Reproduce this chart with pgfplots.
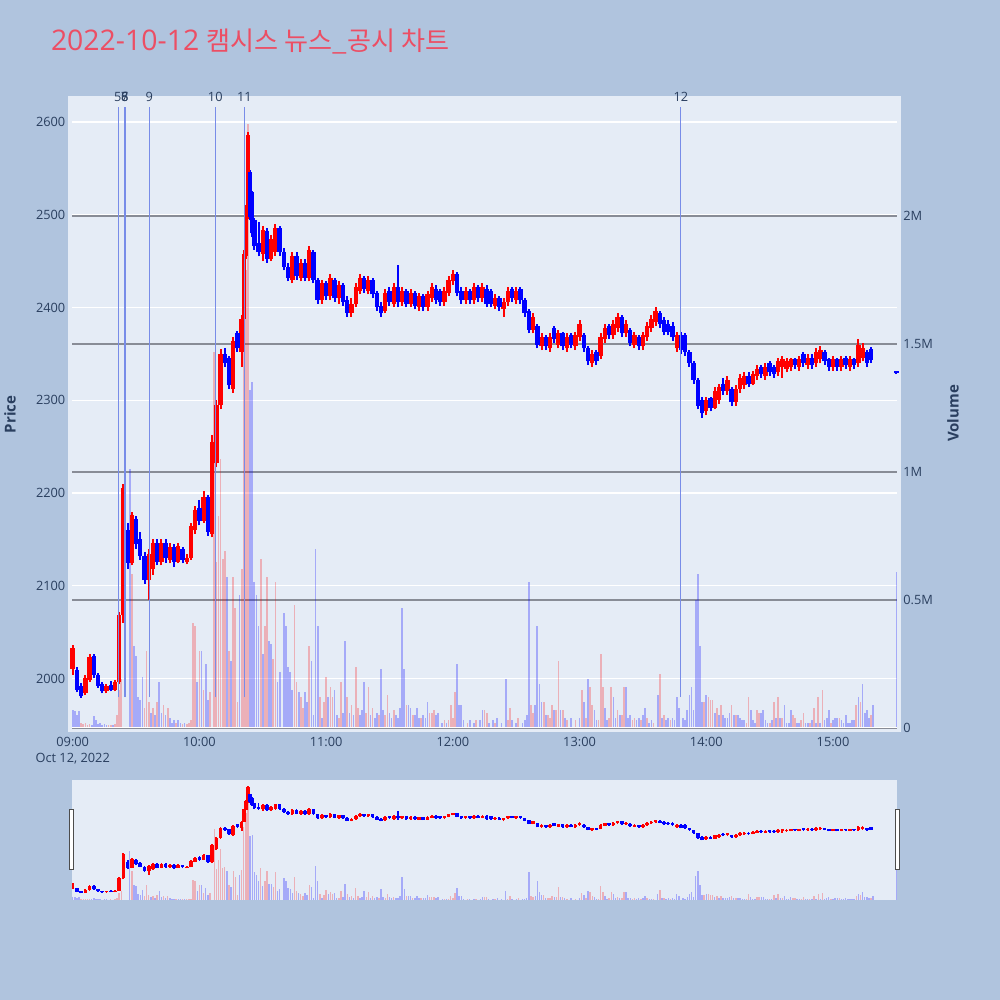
\documentclass[border=0pt]{standalone}
\usepackage{fontspec}
\usepackage{pgfplots}
\usepackage{pgfplotstable}
\pgfplotsset{compat=1.18}
\setmainfont{Open Sans}
\newfontfamily\cjk[Scale=0.92]{Noto Sans CJK KR}

\definecolor{figbg}{RGB}{176,196,222}
\definecolor{plotbg}{RGB}{229,236,246}
\definecolor{txt}{RGB}{42,63,95}
\definecolor{titlered}{RGB}{236,78,100}
\definecolor{volgrid}{RGB}{136,140,150}
\definecolor{evline}{RGB}{120,140,232}

% minutes after 09:00, open high low close
\pgfplotstableread{
t o h l c
0 2010 2036 2004 2033
2 2009 2012 1985 1988
4 1992 1995 1979 1981
6 1984 2004 1982 2000
8 1998 2026 1996 2023
10 2024 2026 2000 2004
12 2004 2006 1990 1992
14 1994 1996 1984 1986
16 1986 1994 1984 1992
18 1993 1997 1986 1988
20 1988 1998 1986 1996
22 1996 2072 1994 2068
24 2068 2210 2060 2205
26 2160 2168 2118 2125
28 2125 2180 2122 2176
30 2172 2175 2140 2145
32 2150 2158 2128 2132
34 2132 2136 2102 2106
36 2106 2140 2085 2134
38 2118 2150 2112 2146
40 2146 2150 2122 2126
42 2126 2150 2122 2146
44 2146 2150 2125 2130
46 2128 2146 2124 2142
48 2142 2145 2120 2126
50 2126 2146 2124 2143
52 2140 2142 2124 2128
54 2126 2134 2123 2130
56 2130 2168 2128 2164
58 2160 2186 2156 2182
60 2184 2192 2165 2170
62 2170 2202 2168 2196
64 2196 2198 2154 2158
66 2156 2262 2152 2255
68 2232 2300 2228 2295
70 2295 2355 2290 2350
72 2350 2356 2336 2340
74 2345 2348 2312 2316
76 2312 2368 2308 2364
78 2372 2375 2352 2356
80 2352 2392 2336 2388
81 2388 2462 2385 2458
82 2456 2510 2452 2505
83 2497 2589 2495 2586
84 2546 2548 2494 2498
85 2524 2526 2476 2480
86 2494 2496 2462 2466
88 2470 2492 2455 2460
90 2458 2488 2450 2484
92 2482 2486 2448 2452
94 2452 2478 2450 2474
96 2460 2490 2456 2486
98 2486 2488 2456 2460
100 2460 2464 2440 2444
102 2444 2448 2428 2432
104 2430 2460 2426 2456
106 2456 2460 2430 2434
108 2432 2452 2428 2448
110 2448 2452 2428 2432
112 2432 2466 2428 2462
114 2460 2462 2426 2430
116 2430 2432 2404 2408
118 2408 2430 2404 2426
120 2426 2428 2408 2412
122 2412 2436 2408 2432
124 2430 2432 2406 2410
126 2410 2428 2404 2424
128 2424 2426 2402 2406
130 2408 2412 2390 2394
132 2394 2410 2390 2404
134 2404 2426 2400 2422
136 2418 2436 2414 2432
138 2432 2434 2416 2420
140 2418 2434 2414 2430
142 2430 2432 2410 2414
144 2416 2418 2396 2400
146 2402 2406 2390 2394
148 2396 2420 2394 2416
150 2418 2422 2402 2406
152 2404 2426 2400 2422
154 2422 2446 2400 2406
156 2406 2422 2402 2418
158 2418 2420 2400 2404
160 2404 2420 2400 2416
162 2416 2418 2398 2402
164 2400 2416 2396 2412
166 2412 2414 2396 2400
168 2400 2418 2396 2414
170 2410 2426 2406 2422
172 2420 2424 2404 2408
174 2418 2420 2402 2406
176 2406 2422 2402 2418
178 2416 2434 2412 2430
180 2428 2440 2424 2436
182 2436 2438 2412 2416
184 2418 2422 2404 2408
186 2408 2422 2404 2418
188 2418 2420 2404 2408
190 2408 2426 2404 2422
192 2422 2424 2406 2410
194 2410 2426 2406 2422
196 2420 2424 2400 2404
198 2418 2420 2400 2404
200 2402 2414 2398 2410
202 2410 2412 2396 2400
204 2398 2410 2390 2406
206 2406 2422 2402 2418
208 2420 2422 2406 2410
210 2408 2422 2404 2418
212 2420 2422 2404 2408
214 2408 2410 2390 2394
216 2396 2398 2372 2376
218 2376 2394 2372 2390
220 2380 2382 2356 2360
222 2358 2372 2354 2368
224 2368 2370 2354 2358
226 2356 2372 2352 2368
228 2378 2380 2362 2366
230 2360 2376 2356 2372
232 2372 2374 2354 2358
234 2356 2372 2352 2368
236 2370 2372 2356 2360
238 2358 2374 2354 2370
240 2368 2386 2364 2382
242 2370 2372 2352 2356
244 2356 2358 2338 2342
246 2340 2354 2336 2350
248 2352 2354 2338 2342
250 2348 2372 2344 2368
252 2366 2382 2362 2378
254 2380 2382 2366 2370
256 2370 2386 2366 2382
258 2378 2394 2374 2390
260 2390 2392 2368 2372
262 2372 2386 2368 2382
264 2376 2378 2358 2362
266 2360 2374 2356 2370
268 2368 2370 2354 2358
270 2358 2374 2354 2370
272 2368 2384 2364 2380
274 2378 2392 2374 2388
276 2384 2400 2380 2396
278 2394 2396 2378 2382
280 2386 2390 2370 2374
282 2382 2386 2370 2374
284 2380 2384 2364 2368
286 2356 2374 2352 2370
288 2370 2374 2350 2354
290 2370 2372 2348 2352
292 2352 2354 2336 2340
294 2340 2342 2318 2322
296 2322 2324 2290 2294
298 2300 2304 2281 2286
300 2288 2304 2284 2300
302 2302 2304 2288 2292
304 2292 2314 2290 2310
306 2300 2318 2296 2314
308 2318 2324 2306 2310
310 2310 2326 2306 2322
312 2312 2314 2294 2298
314 2298 2316 2294 2312
316 2312 2328 2308 2324
318 2316 2330 2312 2326
320 2326 2330 2314 2318
322 2318 2332 2316 2328
324 2326 2338 2322 2334
326 2336 2338 2324 2328
328 2326 2340 2322 2336
330 2340 2342 2326 2330
332 2336 2338 2324 2328
334 2330 2346 2326 2342
336 2336 2348 2324 2344
338 2334 2346 2330 2342
340 2336 2346 2332 2344
342 2344 2346 2334 2338
344 2336 2348 2332 2344
346 2350 2352 2336 2340
348 2338 2350 2334 2346
350 2346 2350 2334 2338
352 2340 2356 2336 2352
354 2344 2358 2340 2354
356 2352 2354 2338 2342
358 2344 2346 2332 2336
360 2336 2348 2332 2344
362 2344 2346 2332 2336
364 2336 2348 2332 2344
366 2346 2348 2334 2338
368 2336 2348 2332 2344
370 2344 2346 2334 2338
372 2340 2366 2336 2360
374 2346 2362 2342 2356
376 2352 2354 2336 2340
378 2355 2357 2340 2343
390 2332 2332 2328 2329
}\candles

% minutes after 09:00, volume in millions, d=1 rising minute
\pgfplotstableread{
t v d
0 0.07 0
1 0.065 0
2 0.05 0
3 0.065 0
4 0.02 1
5 0.015 1
6 0.02 1
7 0.012 1
8 0.015 1
9 0.012 0
10 0.047 0
11 0.03 0
12 0.015 0
13 0.02 0
14 0.01 0
15 0.015 0
16 0.012 0
17 0.01 1
18 0.012 1
19 0.01 0
20 0.015 1
21 0.05 1
22 0.15 1
23 0.19 1
27 1.01 0
28 0.60 1
29 0.32 0
30 0.28 0
31 0.12 0
32 0.11 0
33 0.20 0
34 0.08 1
35 0.30 1
36 0.10 1
37 0.06 0
38 0.08 1
39 0.05 0
40 0.10 1
41 0.18 0
42 0.06 0
43 0.09 1
44 0.05 0
45 0.08 1
46 0.04 0
47 0.02 0
48 0.03 0
49 0.02 1
50 0.03 0
51 0.02 0
52 0.015 1
53 0.02 0
54 0.015 1
55 0.02 1
56 0.03 1
57 0.41 1
58 0.40 1
59 0.18 0
60 0.30 1
61 0.30 0
62 0.15 1
63 0.25 0
64 0.11 0
65 0.14 1
67 1.47 1
68 0.65 1
69 0.83 1
70 1.05 1
71 0.66 1
72 0.69 1
73 0.59 0
74 0.30 1
75 0.26 0
76 0.59 1
77 0.47 1
78 0.10 1
79 0.52 0
80 0.62 1
81 1.50 1
82 1.79 1
83 2.36 1
84 1.32 0
85 1.35 0
86 0.57 0
87 0.52 0
88 0.40 0
89 0.66 1
90 0.29 0
91 0.40 1
92 0.59 1
93 0.34 0
94 0.33 0
95 0.27 1
96 0.57 1
97 0.18 0
98 0.22 0
100 0.45 0
101 0.40 0
102 0.24 0
103 0.22 0
104 0.15 0
105 0.48 1
106 0.18 1
107 0.14 0
108 0.12 1
109 0.08 1
110 0.14 0
111 0.10 0
112 0.32 1
113 0.26 0
114 0.05 0
115 0.70 0
116 0.40 0
117 0.12 1
118 0.04 0
119 0.10 1
120 0.20 1
121 0.12 0
122 0.16 1
123 0.12 1
124 0.15 0
125 0.05 0
126 0.04 1
127 0.18 1
128 0.06 0
129 0.34 0
130 0.12 1
131 0.06 0
132 0.09 1
133 0.05 0
134 0.24 1
135 0.08 1
136 0.05 0
137 0.07 0
138 0.18 0
139 0.06 1
140 0.16 1
141 0.05 0
142 0.08 1
143 0.04 0
144 0.06 0
145 0.05 1
146 0.23 0
147 0.07 0
148 0.05 1
149 0.13 1
150 0.06 0
151 0.04 0
152 0.07 1
153 0.05 0
154 0.04 0
155 0.08 0
156 0.47 0
157 0.23 0
158 0.09 1
159 0.09 0
160 0.08 0
161 0.05 1
162 0.05 0
163 0.08 0
164 0.04 0
165 0.04 1
166 0.05 0
167 0.04 0
168 0.10 0
169 0.06 1
170 0.06 1
171 0.07 1
172 0.05 0
173 0.06 0
175 0.02 0
176 0.03 1
177 0.02 0
178 0.03 1
179 0.09 1
180 0.04 1
181 0.14 1
182 0.25 0
183 0.09 0
184 0.09 0
185 0.03 0
187 0.02 1
188 0.03 0
190 0.02 0
191 0.03 1
193 0.03 0
194 0.07 0
195 0.07 1
196 0.06 1
197 0.02 0
199 0.03 0
200 0.02 1
201 0.04 0
203 0.02 0
205 0.19 0
206 0.03 1
207 0.08 1
208 0.03 0
210 0.02 0
211 0.04 1
213 0.02 0
214 0.03 0
215 0.05 0
216 0.57 0
217 0.09 1
218 0.06 1
219 0.09 0
220 0.40 0
221 0.17 0
222 0.10 0
223 0.10 1
224 0.05 0
225 0.05 1
226 0.04 1
227 0.09 1
228 0.07 0
229 0.07 1
230 0.26 1
231 0.07 0
232 0.07 1
233 0.04 0
234 0.03 1
236 0.04 0
238 0.03 1
240 0.04 0
241 0.15 1
242 0.10 0
243 0.04 1
244 0.19 0
245 0.16 1
246 0.09 1
247 0.07 0
248 0.03 0
249 0.03 1
250 0.29 1
251 0.16 1
252 0.08 0
253 0.03 0
254 0.04 1
255 0.16 1
256 0.12 0
257 0.04 0
258 0.07 1
259 0.05 0
260 0.05 1
261 0.16 1
262 0.16 0
263 0.04 0
264 0.05 0
265 0.03 1
266 0.04 1
267 0.03 0
268 0.04 0
269 0.03 1
270 0.05 0
271 0.08 0
272 0.04 1
273 0.02 0
274 0.03 0
275 0.02 1
277 0.13 0
278 0.21 1
279 0.04 0
280 0.05 1
281 0.03 0
282 0.04 0
283 0.03 1
284 0.04 0
285 0.03 0
286 0.12 0
287 0.08 0
289 0.04 0
290 0.03 0
291 0.07 0
292 0.13 0
293 0.16 0
294 0.07 0
295 0.50 0
296 0.60 0
297 0.32 0
298 0.10 0
299 0.10 1
300 0.13 0
301 0.12 1
302 0.11 1
303 0.11 1
304 0.06 0
305 0.08 1
306 0.05 0
307 0.09 1
308 0.05 0
309 0.04 0
310 0.04 0
311 0.06 0
312 0.09 1
313 0.05 0
314 0.05 1
315 0.05 0
316 0.04 0
317 0.03 0
318 0.03 0
319 0.02 1
320 0.12 1
321 0.07 0
322 0.03 0
323 0.02 0
324 0.07 1
325 0.06 1
326 0.06 0
327 0.07 0
328 0.03 0
329 0.02 0
330 0.02 1
331 0.03 0
332 0.10 1
333 0.04 0
334 0.12 1
335 0.04 0
336 0.04 1
337 0.09 0
338 0.02 0
339 0.02 0
340 0.07 0
341 0.05 1
342 0.04 1
343 0.02 0
344 0.02 0
345 0.03 1
346 0.06 1
347 0.02 0
348 0.02 0
349 0.02 1
350 0.03 0
351 0.08 1
352 0.02 0
353 0.12 1
354 0.02 0
355 0.15 1
356 0.03 0
357 0.04 0
358 0.07 0
359 0.02 1
360 0.03 0
361 0.04 0
362 0.04 0
363 0.04 1
364 0.03 0
365 0.02 0
366 0.05 0
367 0.02 0
368 0.02 0
369 0.03 0
370 0.03 0
371 0.09 1
372 0.12 0
373 0.10 1
374 0.17 0
375 0.06 0
376 0.07 0
377 0.04 0
378 0.05 1
379 0.09 0
390 0.61 0
}\volume

% #1 body width, #2 wick width
\newcommand\candlesticks[2]{%
  \addplot[draw=none, no markers, forget plot,
    restrict expr to domain={\thisrow{c}-\thisrow{o}}{0.5:1000},
    error bars/.cd, y dir=plus, y explicit, error mark=none,
    error bar style={draw=red, line width=#2}]
    table[x=t, y=l, y error plus expr=\thisrow{h}-\thisrow{l}] {\candles};
  \addplot[draw=none, no markers, forget plot,
    restrict expr to domain={\thisrow{o}-\thisrow{c}}{0.5:1000},
    error bars/.cd, y dir=plus, y explicit, error mark=none,
    error bar style={draw=blue, line width=#2}]
    table[x=t, y=l, y error plus expr=\thisrow{h}-\thisrow{l}] {\candles};
  \addplot[draw=none, no markers, forget plot,
    restrict expr to domain={\thisrow{c}-\thisrow{o}}{0.5:1000},
    error bars/.cd, y dir=plus, y explicit, error mark=none,
    error bar style={draw=red, line width=#1}]
    table[x=t, y=o, y error plus expr=\thisrow{c}-\thisrow{o}] {\candles};
  \addplot[draw=none, no markers, forget plot,
    restrict expr to domain={\thisrow{o}-\thisrow{c}}{0.5:1000},
    error bars/.cd, y dir=plus, y explicit, error mark=none,
    error bar style={draw=blue, line width=#1}]
    table[x=t, y=c, y error plus expr=\thisrow{o}-\thisrow{c}] {\candles};
}

% #1 line width
\newcommand\volumebars[1]{%
  \addplot[ycomb, mark=none, draw=red, draw opacity=0.25, line width=#1,
    restrict expr to domain={\thisrow{d}}{0.5:1.5}]
    table[x=t, y=v] {\volume};
  \addplot[ycomb, mark=none, draw=blue, draw opacity=0.28, line width=#1,
    restrict expr to domain={\thisrow{d}}{-0.5:0.5}]
    table[x=t, y=v] {\volume};
}

\pgfplotsset{
  mainbox/.style={scale only axis, width=412.5pt, height=314pt,
    at={(36pt,136pt)}, anchor=south west, xmin=-0.33, xmax=390.3,
    axis line style={draw=none}, major tick length=0pt,
    tick style={draw=none},
    /pgf/number format/assume math mode=true,
    font=\fontsize{6.4}{7.8}\selectfont},
  slidebox/.style={scale only axis, width=412.5pt, height=60pt,
    at={(36pt,50pt)}, anchor=south west, xmin=-0.33, xmax=390.3,
    hide axis},
}

\begin{document}
\begin{tikzpicture}
\fill[figbg] (0pt,0pt) rectangle (500pt,500pt);
\fill[plotbg] (34pt,134pt) rectangle (450.5pt,452pt);
\fill[plotbg] (36pt,50pt) rectangle (448.5pt,110pt);

\node[anchor=base west, inner sep=0pt, text=titlered,
  font=\fontsize{14.2}{17}\selectfont] at (25.3pt,474.5pt)
  {2022-10-12 {\cjk 캠시스 뉴스\_공시 차트}};
\node[rotate=90, inner sep=0pt, text=txt,
  font=\fontsize{7.5}{9}\selectfont\bfseries] at (5pt,292.75pt) {Price};
\node[rotate=90, inner sep=0pt, text=txt,
  font=\fontsize{7.5}{9}\selectfont\bfseries] at (476.5pt,293.25pt) {Volume};

% price grid and time axis
\begin{axis}[mainbox, ymin=1946.6, ymax=2623.7,
  ytick={2000,2100,2200,2300,2400,2500,2600},
  yticklabels={2000,2100,2200,2300,2400,2500,2600},
  yticklabel style={anchor=east, inner sep=0pt, xshift=-3.15pt, text=txt},
  xtick={0,60,120,180,240,300,360},
  xticklabels={{09:00\\Oct 12, 2022},10:00,11:00,12:00,13:00,14:00,15:00},
  xticklabel style={anchor=north, inner sep=0pt, yshift=-4.6pt,
    align=center, text=txt},
  ymajorgrids, grid style={white, line width=0.6pt}]
\end{axis}

% volume
\begin{axis}[mainbox, ymin=0, ymax=2.453, xtick=\empty,
  ytick={0,0.5,1,1.5,2}, yticklabels={0,0.5M,1M,1.5M,2M},
  yticklabel pos=right,
  yticklabel style={anchor=west, inner sep=0pt, xshift=3pt, text=txt},
  ymajorgrids, grid style={volgrid, line width=0.7pt}]
\volumebars{0.85pt}
\draw[white, line width=1pt] (axis cs:-0.33,0) -- (axis cs:390.3,0);
\end{axis}

% candles and news markers
\begin{axis}[mainbox, ymin=1946.6, ymax=2623.7, hide axis, clip=false]
\candlesticks{2.2pt}{1pt}
\addplot[evline, line width=0.5pt] coordinates {(21.6,1980) (21.6,2616)};
\addplot[evline, line width=0.5pt] coordinates {(24.4,1980) (24.4,2616)};
\addplot[evline, line width=0.5pt] coordinates {(24.9,1980) (24.9,2616)};
\addplot[evline, line width=0.5pt] coordinates {(36.3,1980) (36.3,2616)};
\addplot[evline, line width=0.5pt] coordinates {(67.5,1980) (67.5,2616)};
\addplot[evline, line width=0.5pt] coordinates {(81.3,1980) (81.3,2616)};
\addplot[evline, line width=0.5pt] coordinates {(288.0,1980) (288.0,2616)};
\begin{scope}[every node/.style={inner sep=0pt, text=txt,
    font=\fontsize{6.4}{7.8}\selectfont}]
\node at (axis cs:21.3,2627) {5};
\node at (axis cs:24.7,2627) {6};
\node at (axis cs:24.7,2627) {7};
\node at (axis cs:24.7,2627) {8};
\node at (axis cs:36.3,2627) {9};
\node at (axis cs:67.5,2627) {10};
\node at (axis cs:81.3,2627) {11};
\node at (axis cs:288.0,2627) {12};
\end{scope}
\end{axis}

% range slider
\begin{axis}[slidebox, ymin=0, ymax=2.48]
\volumebars{0.7pt}
\end{axis}
\begin{axis}[slidebox, ymin=1942, ymax=2625]
\candlesticks{1.8pt}{0.9pt}
\end{axis}
\filldraw[fill=white, draw=black!70, line width=0.5pt]
  (34.6pt,65pt) rectangle (36.6pt,95pt);
\filldraw[fill=white, draw=black!70, line width=0.5pt]
  (447.6pt,65pt) rectangle (449.6pt,95pt);

\pgfresetboundingbox
\useasboundingbox (0pt,0pt) rectangle (500pt,500pt);
\end{tikzpicture}
\end{document}
